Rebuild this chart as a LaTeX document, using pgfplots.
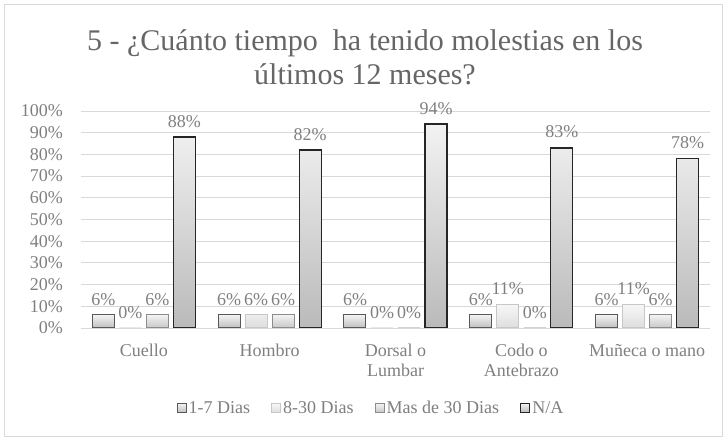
\documentclass[border=0pt]{standalone}
\usepackage{pgfplots}
\pgfplotsset{compat=1.18}
\usepackage{fontspec}
\setmainfont{Liberation Serif}
\definecolor{txt}{HTML}{7F7F7F}
\definecolor{ttl}{HTML}{666666}
\definecolor{gridc}{HTML}{D9D9D9}
\begin{document}
\begin{tikzpicture}
\begin{axis}[
  at={(0pt,0pt)}, anchor=south west,
  scale only axis, width=629pt, height=217pt,
  xmin=-0.5, xmax=4.5, ymin=0, ymax=100,
  ybar=5pt, bar width=22pt,
  axis x line*=bottom, axis y line*=left,
  x axis line style={-, draw=gridc, line width=0.8pt},
  y axis line style={draw=none},
  ymajorgrids, grid style={draw=gridc, line width=0.8pt},
  major tick length=0pt,
  xtick={0,1,2,3,4},
  xticklabels={Cuello,Hombro,{Dorsal o\\Lumbar},{Codo o\\Antebrazo},Muñeca o mano},
  xticklabel style={align=center, anchor=north, inner sep=0pt, yshift=-16pt,
    font=\fontsize{18}{20}\selectfont, text=txt},
  ytick={0,10,...,100},
  yticklabels={0\%,10\%,20\%,30\%,40\%,50\%,60\%,70\%,80\%,90\%,100\%},
  yticklabel style={anchor=east, inner sep=0pt, xshift=-18pt,
    font=\fontsize{18}{20}\selectfont, text=txt},
  nodes near coords={\pgfmathprintnumber[assume math mode=true]{\pgfplotspointmeta}\%},
  every node near coord/.append style={font=\fontsize{18}{20}\selectfont, text=txt,
    inner sep=2pt, yshift=7pt},
  legend columns=4,
  legend style={draw=none, at={(0.461,-0.369)}, anchor=center,
    font=\fontsize{18}{20}\selectfont, text=txt,
    /tikz/every even column/.append style={column sep=19pt}},
  legend image code/.code={\draw[#1] (0pt,-4.5pt) rectangle (9pt,4.5pt);},
]
\addplot[draw=black!65, line width=1pt, top color=black!5, bottom color=black!25]
  coordinates {(0,6)(1,6)(2,6)(3,6)(4,6)};
\addlegendentry{1-7 Dias}
\addplot[draw=black!22, line width=1pt, top color=black!3, bottom color=black!13]
  coordinates {(0,0)(1,6)(2,0)(3,11)(4,11)};
\addlegendentry{8-30 Dias}
\addplot[draw=black!45, line width=1pt, top color=black!5, bottom color=black!22]
  coordinates {(0,6)(1,6)(2,0)(3,0)(4,6)};
\addlegendentry{Mas de 30 Dias}
\addplot[draw=black!85, line width=1.3pt, top color=black!5, bottom color=black!27]
  coordinates {(0,88)(1,82)(2,94)(3,83)(4,78)};
\addlegendentry{N/A}
\end{axis}
\draw[draw=gridc, line width=0.8pt] (-77pt,-108pt) rectangle (641pt,324pt);
\node[text=ttl, font=\fontsize{30}{34}\selectfont, align=center] at (284pt,271pt)
  {5 - ¿Cuánto tiempo\ \ ha tenido molestias en los\\últimos 12 meses?};
\pgfresetboundingbox
\path (-81pt,-110pt) rectangle (643pt,328pt);
\end{tikzpicture}
\end{document}
